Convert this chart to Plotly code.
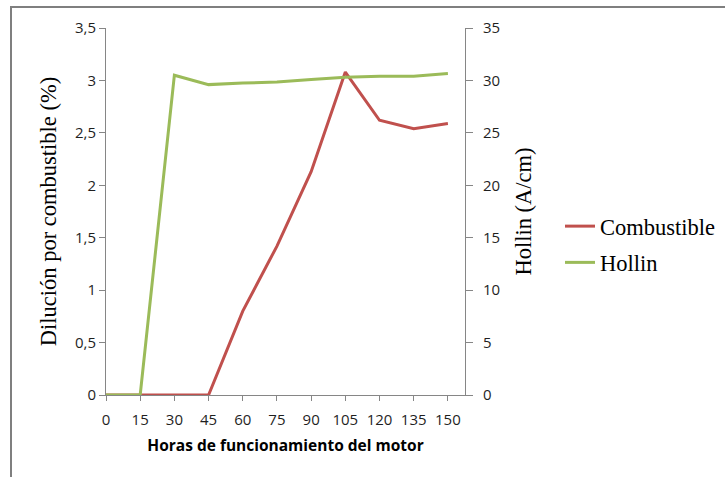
import plotly.graph_objects as go

# Engine running hours
horas = [0, 15, 30, 45, 60, 75, 90, 105, 120, 135, 150]
# Fuel dilution (%) - left axis
combustible = [0, 0, 0, 0, 0.80, 1.42, 2.13, 3.08, 2.62, 2.54, 2.59]
# Soot (A/cm) - right axis
hollin = [0, 0, 30.5, 29.6, 29.75, 29.85, 30.1, 30.3, 30.4, 30.4, 30.65]

x_ticks = [0, 15, 30, 45, 60, 75, 90, 105, 120, 135, 150]
y1_ticks = [0, 0.5, 1, 1.5, 2, 2.5, 3, 3.5]
y1_labels = ["0", "0,5", "1", "1,5", "2", "2,5", "3", "3,5"]
y2_ticks = [0, 5, 10, 15, 20, 25, 30, 35]

RED = "#C0504D"
GREEN = "#9BBB59"
AXIS = "#868686"
SANS = "Open Sans, Carlito, sans-serif"
TICK_FONT = dict(family=SANS, size=15, color="#1F1F1F")
SERIF = "Liberation Serif, Times New Roman, serif"

W, H = 725, 477
L, R, T, B = 106, 260, 28, 82
pw, ph = W - L - R, H - T - B


def px_x(p):
    return (p - L) / pw


def px_y(p):
    return (H - B - p) / ph


fig = go.Figure()
fig.add_trace(go.Scatter(
    x=horas, y=combustible, name="Combustible", mode="lines", legendgroup="c",
    line=dict(color=RED, width=3), yaxis="y"))
fig.add_trace(go.Scatter(
    x=horas, y=hollin, name="Hollin", mode="lines", legendgroup="h",
    line=dict(color=GREEN, width=3), yaxis="y2"))

fig.update_layout(
    width=W, height=H,
    margin=dict(l=L, r=R, t=T, b=B, autoexpand=False),
    paper_bgcolor="white", plot_bgcolor="white",
    showlegend=True,
    legend=dict(
        x=px_x(560), y=px_y(205), xanchor="left", yanchor="top",
        font=dict(family=SERIF, size=22.5, color="#000000"),
        bgcolor="rgba(0,0,0,0)", borderwidth=0,
        itemwidth=30, traceorder="grouped", tracegroupgap=4,
    ),
    xaxis=dict(
        range=[0, 157.5], tickvals=x_ticks, ticktext=[str(v) for v in x_ticks],
        showgrid=False, zeroline=False, showline=True, linecolor=AXIS, linewidth=1,
        ticks="outside", ticklen=5, tickcolor=AXIS, tickfont=TICK_FONT,
        ticklabelstandoff=6, automargin=False,
        title=dict(text="<b>Horas de funcionamiento del motor</b>",
                   font=dict(family=SANS, size=15.5, color="#000000"),
                   standoff=12),
    ),
    yaxis=dict(
        range=[0, 3.5], tickvals=y1_ticks, ticktext=y1_labels,
        showgrid=False, zeroline=False, showline=True, linecolor=AXIS, linewidth=1,
        ticks="outside", ticklen=6, tickcolor=AXIS, tickfont=TICK_FONT,
        automargin=False,
        title=dict(text="Dilución por combustible (%)",
                   font=dict(family=SERIF, size=22.5, color="#000000"),
                   standoff=12),
    ),
    yaxis2=dict(
        range=[0, 35], tickvals=y2_ticks, ticktext=[str(v) for v in y2_ticks],
        overlaying="y", side="right", anchor="x",
        showgrid=False, zeroline=False, showline=True, linecolor=AXIS, linewidth=1,
        ticks="outside", ticklen=7, tickcolor=AXIS, tickfont=TICK_FONT,
        ticklabelstandoff=7, automargin=False,
        title=dict(text="Hollin (A/cm)",
                   font=dict(family=SERIF, size=22.5, color="#000000"),
                   standoff=16),
    ),
)

# Outer chart frame (top and left edges visible)
fig.add_shape(type="rect", xref="paper", yref="paper",
              x0=px_x(11), x1=px_x(740), y0=px_y(490), y1=px_y(7),
              line=dict(color="#7F7F7F", width=2), fillcolor="rgba(0,0,0,0)",
              layer="below")

fig.write_html("out.html")
